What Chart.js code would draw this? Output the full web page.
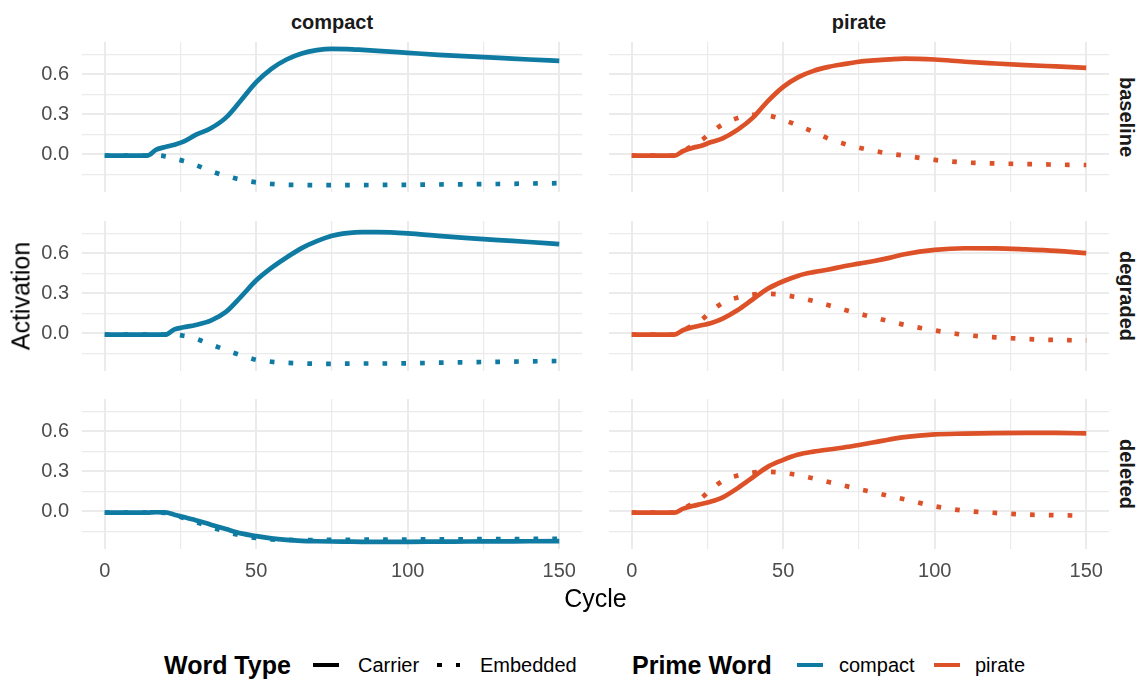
<!DOCTYPE html>
<html>
<head>
<meta charset="utf-8">
<title>Activation by cycle</title>
<script src="https://cdn.jsdelivr.net/npm/chart.js@4.4.1/dist/chart.umd.min.js"></script>
<style>
  html, body { margin: 0; padding: 0; background: #ffffff; }
  #figure {
    position: relative; width: 1144px; height: 681px; overflow: hidden;
    font-family: "Liberation Sans", Arial, Helvetica, sans-serif;
  }
  #figure canvas { position: absolute; }
  .txt { position: absolute; white-space: nowrap; line-height: 1; }
  .centered { transform: translate(-50%, -50%); }
  .strip { font-size: 20px; font-weight: bold; color: #1a1a1a; }
  .axis-title { font-size: 25px; color: #000000; }
  .legend-title { font-size: 25px; font-weight: bold; color: #000000; }
  .legend-text { font-size: 20px; color: #000000; }
  .key { position: absolute; }
</style>
</head>
<body>
<div id="figure"></div>
<script>
// ---- data: activation per cycle, one array per prime word / condition / word type ----
const cycles = [0, 5, 10, 14, 17, 20, 23, 26, 30, 35, 40, 45, 50, 55, 60, 65, 70, 75, 80, 85, 90, 100, 110, 120, 130, 140, 150];

const primeWords = ['compact', 'pirate'];
const conditions = ['baseline', 'degraded', 'deleted'];
const wordTypes = ['Carrier', 'Embedded'];

const compactBaselineCarrier  = [-0.01, -0.01, -0.01, -0.01, 0.035, 0.055, 0.072, 0.095, 0.145, 0.195, 0.275, 0.405, 0.54, 0.64, 0.71, 0.755, 0.78, 0.79, 0.788, 0.782, 0.775, 0.76, 0.745, 0.733, 0.722, 0.71, 0.70];
const compactBaselineEmbedded = [-0.01, -0.01, -0.01, -0.01, -0.008, -0.015, -0.032, -0.05, -0.08, -0.125, -0.162, -0.19, -0.21, -0.222, -0.228, -0.23, -0.231, -0.231, -0.23, -0.23, -0.229, -0.228, -0.226, -0.224, -0.222, -0.219, -0.216];
const pirateBaselineCarrier   = [-0.01, -0.01, -0.01, -0.01, 0.025, 0.048, 0.065, 0.09, 0.12, 0.185, 0.275, 0.40, 0.505, 0.578, 0.625, 0.655, 0.675, 0.693, 0.703, 0.711, 0.717, 0.71, 0.693, 0.68, 0.668, 0.658, 0.648];
const pirateBaselineEmbedded  = [-0.01, -0.01, -0.01, -0.01, 0.025, 0.065, 0.105, 0.16, 0.225, 0.272, 0.295, 0.29, 0.258, 0.215, 0.168, 0.117, 0.08, 0.05, 0.026, 0.005, -0.01, -0.042, -0.061, -0.068, -0.073, -0.077, -0.08];

const compactDegradedCarrier  = [-0.01, -0.01, -0.01, -0.01, -0.01, -0.01, 0.03, 0.045, 0.063, 0.095, 0.16, 0.275, 0.397, 0.49, 0.568, 0.638, 0.69, 0.73, 0.75, 0.758, 0.758, 0.749, 0.73, 0.713, 0.698, 0.684, 0.668];
const compactDegradedEmbedded = [-0.01, -0.01, -0.01, -0.01, -0.01, -0.01, -0.01, -0.018, -0.04, -0.083, -0.125, -0.164, -0.199, -0.213, -0.221, -0.225, -0.228, -0.228, -0.227, -0.226, -0.226, -0.225, -0.22, -0.216, -0.213, -0.21, -0.207];
const pirateDegradedCarrier   = [-0.01, -0.01, -0.01, -0.01, 0.025, 0.045, 0.06, 0.075, 0.11, 0.174, 0.255, 0.335, 0.39, 0.432, 0.458, 0.478, 0.502, 0.522, 0.542, 0.565, 0.592, 0.625, 0.637, 0.636, 0.628, 0.617, 0.60];
const pirateDegradedEmbedded  = [-0.01, -0.01, -0.01, -0.01, 0.025, 0.06, 0.1, 0.16, 0.228, 0.268, 0.29, 0.296, 0.287, 0.268, 0.242, 0.21, 0.178, 0.147, 0.118, 0.09, 0.064, 0.022, -0.012, -0.03, -0.042, -0.05, -0.053];

const compactDeletedCarrier   = [-0.01, -0.01, -0.01, -0.01, -0.007, -0.008, -0.025, -0.042, -0.066, -0.1, -0.133, -0.165, -0.186, -0.203, -0.214, -0.221, -0.224, -0.226, -0.227, -0.228, -0.228, -0.228, -0.227, -0.226, -0.225, -0.224, -0.223];
const compactDeletedEmbedded  = [-0.01, -0.01, -0.01, -0.01, -0.01, -0.012, -0.028, -0.05, -0.08, -0.118, -0.152, -0.181, -0.2, -0.21, -0.214, -0.215, -0.215, -0.214, -0.213, -0.212, -0.212, -0.211, -0.21, -0.209, -0.208, -0.207, -0.206];
const pirateDeletedCarrier    = [-0.01, -0.01, -0.01, -0.01, 0.02, 0.04, 0.055, 0.072, 0.105, 0.174, 0.255, 0.335, 0.385, 0.425, 0.447, 0.463, 0.478, 0.497, 0.517, 0.538, 0.556, 0.576, 0.582, 0.586, 0.588, 0.587, 0.583];
const pirateDeletedEmbedded   = [-0.01, -0.01, -0.01, -0.01, 0.02, 0.058, 0.1, 0.16, 0.228, 0.268, 0.29, 0.296, 0.288, 0.27, 0.246, 0.219, 0.193, 0.166, 0.141, 0.115, 0.09, 0.038, 0.004, -0.012, -0.024, -0.029, -0.033];

// axis breaks
const xTickLabels = [0, 50, 100, 150];
const xMinorBreaks = [25, 75, 125];
const yTickLabels = [0, 0.3, 0.6];
const yMinorBreaks = [-0.15, 0.15, 0.45, 0.75];

// ---- lookup tables built from the arrays above ----
const series = {
  baseline: { compact: { Carrier: compactBaselineCarrier, Embedded: compactBaselineEmbedded },
              pirate:  { Carrier: pirateBaselineCarrier,  Embedded: pirateBaselineEmbedded } },
  degraded: { compact: { Carrier: compactDegradedCarrier, Embedded: compactDegradedEmbedded },
              pirate:  { Carrier: pirateDegradedCarrier,  Embedded: pirateDegradedEmbedded } },
  deleted:  { compact: { Carrier: compactDeletedCarrier,  Embedded: compactDeletedEmbedded },
              pirate:  { Carrier: pirateDeletedCarrier,   Embedded: pirateDeletedEmbedded } }
};
const primeColors = { compact: '#0f7ba2', pirate: '#dd5129' };

// shared scales with a 5% margin on each side of the data
const allValues = [];
conditions.forEach(c => primeWords.forEach(p => wordTypes.forEach(w => allValues.push(...series[c][p][w]))));
const yLo = Math.min(...allValues), yHi = Math.max(...allValues);
const yMin = yLo - 0.05 * (yHi - yLo), yMax = yHi + 0.05 * (yHi - yLo);
const xLo = cycles[0], xHi = cycles[cycles.length - 1];
const xMin = xLo - 0.05 * (xHi - xLo), xMax = xHi + 0.05 * (xHi - xLo);

// ---- layout ----
const FONT = '"Liberation Sans", Arial, Helvetica, sans-serif';
const PANEL_W = 500, PANEL_H = 150;
const COL_LEFT = [82, 609];
const ROW_TOP = [42, 221, 399];
const Y_AXIS_W = 82, X_AXIS_H = 45;
const LINE_W = 4.7;
const GRID = '#ebebeb';

const fig = document.getElementById('figure');

function isOn(v, list) { return list.some(b => Math.abs(b - v) < 1e-9); }

function zeroPadding(s) { s.paddingLeft = 0; s.paddingRight = 0; s.paddingTop = 0; s.paddingBottom = 0; }

function makePanel(rowIdx, colIdx) {
  const condition = conditions[rowIdx];
  const prime = primeWords[colIdx];
  const isLeft = colIdx === 0;
  const isBottom = rowIdx === conditions.length - 1;
  const color = primeColors[prime];

  const canvas = document.createElement('canvas');
  const left = isLeft ? 0 : COL_LEFT[colIdx];
  const width = PANEL_W + (isLeft ? Y_AXIS_W : 0);
  const height = PANEL_H + (isBottom ? X_AXIS_H : 0);
  canvas.width = width; canvas.height = height;
  canvas.style.left = left + 'px';
  canvas.style.top = ROW_TOP[rowIdx] + 'px';
  canvas.style.width = width + 'px';
  canvas.style.height = height + 'px';
  fig.appendChild(canvas);

  const toPoints = arr => cycles.map((c, i) => ({ x: c, y: arr[i] }));

  new Chart(canvas, {
    type: 'line',
    data: {
      datasets: [
        { // listed first so it is painted on top of the solid line
          label: prime + ' Embedded',
          data: toPoints(series[condition][prime].Embedded),
          borderColor: color, borderWidth: LINE_W,
          borderDash: [LINE_W, 3 * LINE_W], borderCapStyle: 'butt',
          pointRadius: 0, fill: false, cubicInterpolationMode: 'monotone'
        },
        {
          label: prime + ' Carrier',
          data: toPoints(series[condition][prime].Carrier),
          borderColor: color, borderWidth: LINE_W,
          borderCapStyle: 'butt', borderJoinStyle: 'round',
          pointRadius: 0, fill: false, cubicInterpolationMode: 'monotone'
        }
      ]
    },
    options: {
      responsive: false, animation: false, events: [],
      layout: { padding: 0 },
      plugins: { legend: { display: false }, tooltip: { enabled: false } },
      scales: {
        x: {
          type: 'linear', min: xMin, max: xMax, bounds: 'data',
          border: { display: false },
          grid: {
            color: GRID, drawTicks: false,
            lineWidth: ctx => (ctx.tick && isOn(ctx.tick.value, xTickLabels)) ? 2 : 1.2
          },
          ticks: {
            display: isBottom, padding: 10, color: '#4d4d4d', autoSkip: false, maxRotation: 0,
            font: { family: FONT, size: 20 },
            callback: v => isOn(v, xTickLabels) ? String(v) : ''
          },
          afterBuildTicks: s => {
            s.ticks = xTickLabels.concat(xMinorBreaks).sort((a, b) => a - b).map(v => ({ value: v }));
          },
          afterFit: s => { s.height = isBottom ? X_AXIS_H : 0; zeroPadding(s); }
        },
        y: {
          type: 'linear', min: yMin, max: yMax, bounds: 'data', position: 'left',
          border: { display: false },
          grid: {
            color: GRID, drawTicks: false,
            lineWidth: ctx => (ctx.tick && isOn(ctx.tick.value, yTickLabels)) ? 2 : 1.2
          },
          ticks: {
            display: isLeft, padding: 13, color: '#4d4d4d', autoSkip: false,
            font: { family: FONT, size: 20 },
            callback: v => isOn(v, yTickLabels) ? v.toFixed(1) : ''
          },
          afterBuildTicks: s => {
            s.ticks = yTickLabels.concat(yMinorBreaks).sort((a, b) => a - b).map(v => ({ value: v }));
          },
          afterFit: s => { s.width = isLeft ? Y_AXIS_W : 0; zeroPadding(s); }
        }
      }
    }
  });
}

conditions.forEach((c, r) => primeWords.forEach((p, k) => makePanel(r, k)));

// ---- text: facet strips, axis titles ----
function addText(text, cls, x, y, rotate) {
  const d = document.createElement('div');
  d.className = 'txt centered ' + cls;
  d.textContent = text;
  d.style.left = x + 'px';
  d.style.top = y + 'px';
  if (rotate) d.style.transform = 'translate(-50%, -50%) rotate(' + rotate + 'deg)';
  fig.appendChild(d);
}

primeWords.forEach((p, k) => addText(p, 'strip', COL_LEFT[k] + PANEL_W / 2, 22));
conditions.forEach((c, r) => addText(c, 'strip', 1127, ROW_TOP[r] + PANEL_H / 2, 90));
addText('Activation', 'axis-title', 21, (ROW_TOP[0] + ROW_TOP[2] + PANEL_H) / 2, -90);
addText('Cycle', 'axis-title', (COL_LEFT[0] + COL_LEFT[1] + PANEL_W) / 2, 598);

// ---- legend ----
const LEGEND_Y = 665;
function addLegendText(text, cls, x, size) {
  const d = document.createElement('div');
  d.className = 'txt ' + cls;
  d.textContent = text;
  d.style.left = x + 'px';
  d.style.top = (LEGEND_Y - size / 2) + 'px';
  fig.appendChild(d);
}
function addKeyBar(x, w, color) {
  const k = document.createElement('div');
  k.className = 'key';
  k.style.left = x + 'px';
  k.style.top = (LEGEND_Y - LINE_W / 2) + 'px';
  k.style.width = w + 'px';
  k.style.height = LINE_W + 'px';
  k.style.background = color;
  fig.appendChild(k);
}

addLegendText('Word Type', 'legend-title', 164, 25);
addKeyBar(313, 26, '#000000');
addLegendText(wordTypes[0], 'legend-text', 358, 20);
addKeyBar(437, LINE_W, '#000000');
addKeyBar(437 + 4 * LINE_W, LINE_W, '#000000');
addLegendText(wordTypes[1], 'legend-text', 480, 20);

addLegendText('Prime Word', 'legend-title', 632, 25);
addKeyBar(797, 26, primeColors.compact);
addLegendText(primeWords[0], 'legend-text', 839, 20);
addKeyBar(934, 26, primeColors.pirate);
addLegendText(primeWords[1], 'legend-text', 975, 20);
</script>
</body>
</html>
